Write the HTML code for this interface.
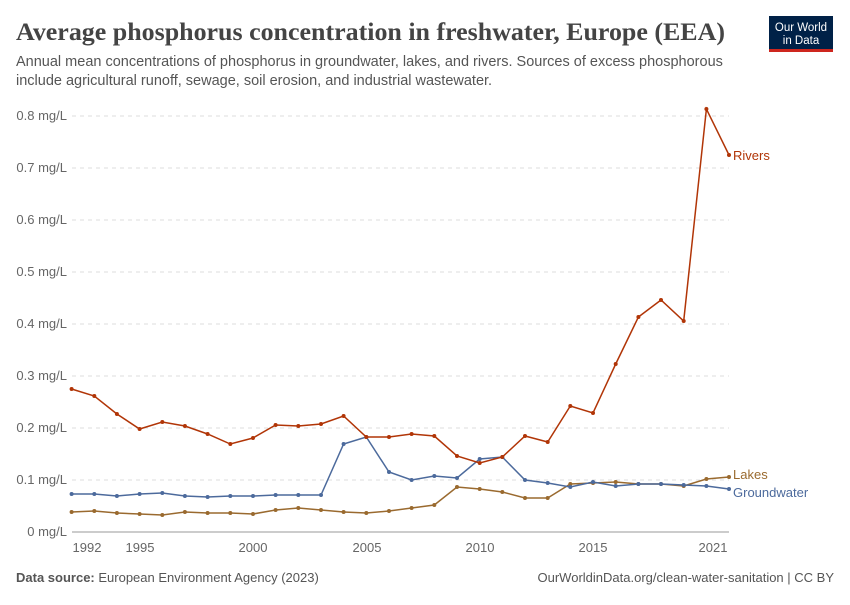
<!DOCTYPE html>
<html><head><meta charset="utf-8"><style>
body{margin:0;background:#fff;font-family:"Liberation Sans",sans-serif;}
</style></head><body>
<svg width="850" height="600" xmlns="http://www.w3.org/2000/svg" font-family="Liberation Sans, sans-serif">
<text x="16" y="40" font-family="Liberation Serif, serif" font-size="25" font-weight="bold" fill="#444" textLength="709" lengthAdjust="spacingAndGlyphs">Average phosphorus concentration in freshwater, Europe (EEA)</text>
<text x="16" y="66" font-size="14.5" fill="#555">Annual mean concentrations of phosphorus in groundwater, lakes, and rivers. Sources of excess phosphorous</text>
<text x="16" y="85" font-size="14.5" fill="#555">include agricultural runoff, sewage, soil erosion, and industrial wastewater.</text>
<rect x="769" y="16" width="64" height="36" fill="#002147"/>
<rect x="769" y="49" width="64" height="3" fill="#ce261e"/>
<text x="801" y="31" font-size="11.5" fill="#fff" text-anchor="middle">Our World</text>
<text x="801" y="44" font-size="11.5" fill="#fff" text-anchor="middle">in Data</text>
<g font-size="13" fill="#666" text-anchor="end">
<text x="67" y="536">0 mg/L</text><text x="67" y="484">0.1 mg/L</text><text x="67" y="432">0.2 mg/L</text>
<text x="67" y="380">0.3 mg/L</text><text x="67" y="328">0.4 mg/L</text><text x="67" y="276">0.5 mg/L</text>
<text x="67" y="224">0.6 mg/L</text><text x="67" y="172">0.7 mg/L</text><text x="67" y="120">0.8 mg/L</text>
</g>
<g stroke="#ddd" stroke-dasharray="4,4">
<line x1="72" x2="729" y1="480" y2="480"/><line x1="72" x2="729" y1="428" y2="428"/>
<line x1="72" x2="729" y1="376" y2="376"/><line x1="72" x2="729" y1="324" y2="324"/>
<line x1="72" x2="729" y1="272" y2="272"/><line x1="72" x2="729" y1="220" y2="220"/>
<line x1="72" x2="729" y1="168" y2="168"/><line x1="72" x2="729" y1="116" y2="116"/>
</g>
<line x1="72" x2="729" y1="532" y2="532" stroke="#999"/>
<g font-size="13" fill="#666" text-anchor="middle">
<text x="87" y="552">1992</text><text x="140" y="552">1995</text><text x="253" y="552">2000</text>
<text x="367" y="552">2005</text><text x="480" y="552">2010</text><text x="593" y="552">2015</text><text x="713" y="552">2021</text>
</g>
<g id="s"></g>
<text x="733" y="160" font-size="13" fill="#b13507">Rivers</text>
<text x="733" y="479" font-size="13" fill="#9a6a2f">Lakes</text>
<text x="733" y="497" font-size="13" fill="#4c6a9c">Groundwater</text>
<text x="16" y="582" font-size="13" fill="#555"><tspan font-weight="bold">Data source:</tspan> European Environment Agency (2023)</text>
<text x="834" y="582" font-size="13" fill="#555" text-anchor="end">OurWorldinData.org/clean-water-sanitation | CC BY</text>
</svg>
<script>
const R=[389,396,414,429,422,426,434,444,438,425,426,424,416,437,437,434,436,456,463,457,436,442,406,413,364,317,300,321,109,155];
const G=[494,494,496,494,493,496,497,496,496,495,495,495,444,437,472,480,476,478,459,457,480,483,487,482,486,484,484,485,486,489];
const L=[512,511,513,514,515,512,513,513,514,510,508,510,512,513,511,508,505,487,489,492,498,498,484,483,482,484,484,486,479,477];
const g=document.getElementById('s');let h='';
for(const [d,c] of [[L,'#9a6a2f'],[G,'#4c6a9c'],[R,'#b13507']]){
 const p=d.map((y,i)=>(71.6+i*22.67).toFixed(1)+','+y).join(' ');
 h+=`<polyline points="${p}" fill="none" stroke="${c}" stroke-width="1.5"/>`;
 d.forEach((y,i)=>h+=`<circle cx="${(71.6+i*22.67).toFixed(1)}" cy="${y}" r="2" fill="${c}"/>`);
}
g.innerHTML=h;
</script>
</body></html>
